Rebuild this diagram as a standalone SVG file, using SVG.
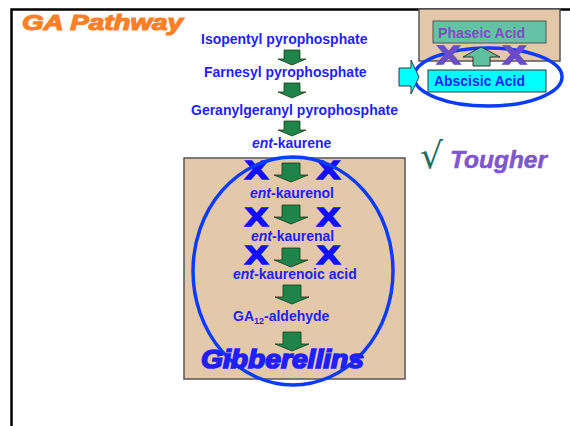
<svg xmlns="http://www.w3.org/2000/svg" xmlns:xlink="http://www.w3.org/1999/xlink" width="570" height="426" viewBox="0 0 570 426">
<style>
.lbl{font-family:"Liberation Sans",Arial,sans-serif;font-weight:bold;font-size:14px;fill:#1f1fff}
.it{font-style:italic}
.x{font-family:"Liberation Sans",Arial,sans-serif;font-weight:bold;font-size:26px;fill:#1010ff;stroke:#1010ff;stroke-width:1.6}
.xp{font-family:"Liberation Sans",Arial,sans-serif;font-weight:bold;font-size:26px;fill:#6a4cc8;stroke:#6a4cc8;stroke-width:1.6}
.garr{fill:#1e8449;stroke:#1a3a1a;stroke-width:0.8}
.tan{fill:#e3c9a9;stroke:#555;stroke-width:1.5}
.ell{fill:none;stroke:#0a3cff;stroke-width:3.5}
</style>
<defs>
<path id="arr" d="M-9,0 H9 V12 H17 L0,19 L-17,12 H-9 Z"/>
<path id="arrs" d="M-8,0 H8 V9 H14 L0,15 L-14,9 H-8 Z"/>
</defs>
<rect width="570" height="426" fill="#fff"/>
<g id="frame" fill="none" stroke="#000" stroke-width="2.5">
<path d="M11.5,426 V9.5 H570"/>
</g>
<g id="title"><text x="22" y="30" font-family="Liberation Sans,Arial,sans-serif" font-weight="bold" font-style="italic" font-size="22" fill="#ff7f27" stroke="#ff7f27" stroke-width="1.2" textLength="161" lengthAdjust="spacingAndGlyphs">GA Pathway</text></g>

<g id="box-main"><rect class="tan" x="184" y="158" width="221" height="221"/></g>
<g id="box-top"><rect class="tan" x="419" y="9" width="141" height="52"/></g>
<g id="phaseic"><rect x="433" y="21" width="113" height="22" fill="#66c2a5" stroke="#555" stroke-width="1"/>
<text x="438" y="38" font-family="Liberation Sans,Arial,sans-serif" font-weight="bold" font-size="14" fill="#7a4fc0" textLength="87" lengthAdjust="spacingAndGlyphs">Phaseic Acid</text></g>

<g id="nodes">
<text id="n-ipp" class="lbl" x="201" y="44">Isopentyl pyrophosphate</text>
<text id="n-fpp" class="lbl" x="204" y="77">Farnesyl pyrophosphate</text>
<text id="n-ggpp" class="lbl" x="191" y="115">Geranylgeranyl pyrophosphate</text>
<text id="n-kaurene" class="lbl" x="252" y="148"><tspan class="it">ent</tspan>-kaurene</text>
<text id="n-kaurenol" class="lbl" x="250" y="198"><tspan class="it">ent</tspan>-kaurenol</text>
<text id="n-kaurenal" class="lbl" x="251" y="241"><tspan class="it">ent</tspan>-kaurenal</text>
<text id="n-kacid" class="lbl" x="233" y="279"><tspan class="it">ent</tspan>-kaurenoic acid</text>
<text id="n-ga12" class="lbl" x="233" y="321">GA<tspan font-size="9" dy="3">12</tspan><tspan dy="-3">-aldehyde</tspan></text>
</g>

<g id="connectors">
<use href="#arrs" class="garr" x="292" y="50"/>
<use href="#arrs" class="garr" x="292" y="83"/>
<use href="#arrs" class="garr" x="292" y="121"/>
<use href="#arr" class="garr" x="291" y="163"/>
<use href="#arr" class="garr" x="291" y="205"/>
<use href="#arr" class="garr" x="291" y="248"/>
<use href="#arr" class="garr" x="292" y="285"/>
<use href="#arr" class="garr" x="292" y="332"/>
</g>

<g id="blocks">
<text class="x" x="245" y="179" textLength="23" lengthAdjust="spacingAndGlyphs">X</text>
<text class="x" x="317" y="179" textLength="23" lengthAdjust="spacingAndGlyphs">X</text>
<text class="x" x="245" y="226" textLength="23" lengthAdjust="spacingAndGlyphs">X</text>
<text class="x" x="317" y="226" textLength="23" lengthAdjust="spacingAndGlyphs">X</text>
<text class="x" x="245" y="264" textLength="23" lengthAdjust="spacingAndGlyphs">X</text>
<text class="x" x="317" y="264" textLength="23" lengthAdjust="spacingAndGlyphs">X</text>
</g>

<g id="ellipse-main"><ellipse class="ell" cx="293" cy="271" rx="100" ry="114"/></g>
<g id="gibberellins"><text x="201" y="368" font-family="Liberation Sans,Arial,sans-serif" font-weight="bold" font-style="italic" font-size="25" fill="#1f1fff" stroke="#1f1fff" stroke-width="1.6" textLength="163" lengthAdjust="spacingAndGlyphs">Gibberellins</text></g>

<g id="ellipse-top"><ellipse class="ell" cx="488" cy="77" rx="74" ry="29"/></g>
<g id="top-blocks">
<text class="xp" x="437" y="64" textLength="23" lengthAdjust="spacingAndGlyphs">X</text>
<text class="xp" x="503" y="64" textLength="23" lengthAdjust="spacingAndGlyphs">X</text>
</g>
<g id="up-arrow"><path d="M463,57 L481,47 L500,57 H490 V66 H473 V57 Z" fill="#5fc0a0" stroke="#333" stroke-width="1"/></g>
<g id="abscisic"><rect x="428" y="70" width="118" height="22" fill="#00ffff" stroke="#333" stroke-width="1"/>
<text x="434" y="86" font-family="Liberation Sans,Arial,sans-serif" font-weight="bold" font-size="14" fill="#1f1fff" textLength="91" lengthAdjust="spacingAndGlyphs">Abscisic Acid</text></g>
<g id="in-arrow"><path d="M399,68 H411 V60 L419,77 L411,94 V86 H399 Z" fill="#00ffff" stroke="#333" stroke-width="1"/></g>

<g id="tougher">
<text x="420" y="168" font-family="DejaVu Serif,serif" font-size="36" fill="#1e6e60">√</text>
<text x="450" y="168" font-family="Liberation Sans,Arial,sans-serif" font-weight="bold" font-style="italic" font-size="23" fill="#7f56d0" stroke="#7f56d0" stroke-width="0.5" textLength="97" lengthAdjust="spacingAndGlyphs">Tougher</text>
</g>
</svg>
